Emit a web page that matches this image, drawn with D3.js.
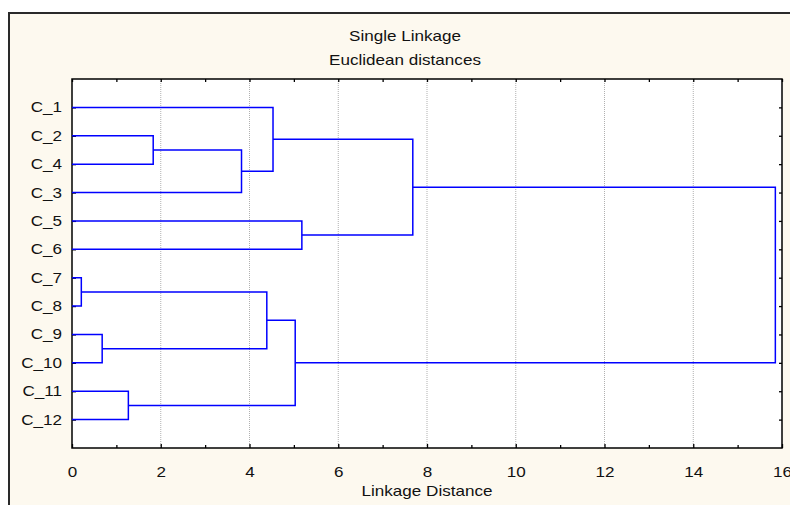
<!DOCTYPE html>
<html>
<head>
<meta charset="utf-8">
<script src="https://cdn.jsdelivr.net/npm/d3@7"></script>
<style>
  body { margin: 0; background: #fff; }
  text { font-family: Arial, "Liberation Sans", sans-serif; fill: #111; }
</style>
</head>
<body>
<div id="chart"></div>
<script>
// leaf order as drawn, top to bottom
const leafLabels = ["C_1", "C_2", "C_4", "C_3", "C_5", "C_6", "C_7", "C_8", "C_9", "C_10", "C_11", "C_12"];
// merges: ids 0..11 are leaves, merge i gets id 12 + i
const mergeA = [1, 12, 0, 4, 14, 6, 8, 17, 10, 19, 16];
const mergeB = [2, 3, 13, 5, 15, 7, 9, 18, 11, 20, 21];
const mergeHeight = [1.83, 3.82, 4.53, 5.18, 7.68, 0.21, 0.68, 4.39, 1.27, 5.03, 15.85];
const xTicksMajor = [0, 2, 4, 6, 8, 10, 12, 14, 16];
const xTicksMinor = [1, 3, 5, 7, 9, 11, 13, 15];
const titleLines = ["Single Linkage", "Euclidean distances"];
const xTitle = "Linkage Distance";

const W = 790, H = 505;
const plot = {left: 72, top: 79, right: 782, bottom: 448};
const sx = 1.22; // the source picture is stretched horizontally

const svg = d3.select("#chart").append("svg")
  .attr("width", W)
  .attr("height", H);

// outer frame
svg.append("rect")
  .attr("x", 9).attr("y", 13)
  .attr("width", 800).attr("height", 510)
  .attr("fill", "#fdf9ef")
  .attr("stroke", "#2a2a2a")
  .attr("stroke-width", 2);

const x = d3.scaleLinear().domain([0, 16]).range([plot.left, plot.right]);
const y = d3.scaleLinear().domain([0, 13]).range([plot.top, plot.bottom]);

// plot background
svg.append("rect")
  .attr("x", plot.left).attr("y", plot.top)
  .attr("width", plot.right - plot.left)
  .attr("height", plot.bottom - plot.top)
  .attr("fill", "#fff");

// grid lines
svg.append("g").selectAll("line")
  .data(xTicksMajor.filter(d => d > 0 && d < 16))
  .join("line")
  .attr("x1", d => x(d)).attr("x2", d => x(d))
  .attr("y1", plot.top).attr("y2", plot.bottom)
  .attr("stroke", "#b0b0b0")
  .attr("stroke-width", 1)
  .attr("stroke-dasharray", "1,1");

// stretch a text node horizontally around its own x
function stretch(sel) {
  sel.each(function() {
    const t = d3.select(this);
    const tx = +t.attr("x") || 0;
    t.attr("x", tx / sx).attr("transform", `scale(${sx},1)`);
  });
}

// axes
const axisStyle = g => {
  g.select(".domain").remove();
  g.selectAll("line").attr("stroke", "#000").attr("stroke-width", 1.3);
  g.selectAll("text").attr("font-size", 14).attr("fill", "#111")
    .attr("font-family", "Arial, 'Liberation Sans', sans-serif");
};

svg.append("g")
  .attr("transform", `translate(0,${plot.bottom})`)
  .call(d3.axisBottom(x).tickValues(xTicksMajor).tickSizeInner(-4).tickSizeOuter(0).tickPadding(19).tickFormat(d3.format("d")))
  .call(axisStyle)
  .call(g => stretch(g.selectAll("text")));

svg.append("g")
  .attr("transform", `translate(0,${plot.bottom})`)
  .call(d3.axisBottom(x).tickValues(xTicksMinor).tickSizeInner(-3).tickSizeOuter(0).tickFormat(""))
  .call(axisStyle);

svg.append("g")
  .attr("transform", `translate(0,${plot.top})`)
  .call(d3.axisTop(x).tickValues(d3.merge([xTicksMajor, xTicksMinor])).tickSizeInner(-3).tickSizeOuter(0).tickFormat(""))
  .call(axisStyle);

svg.append("g")
  .attr("transform", `translate(${plot.left},0)`)
  .call(d3.axisLeft(y).tickValues(d3.range(1, 13)).tickSizeInner(-4).tickSizeOuter(0).tickPadding(10)
    .tickFormat(d => leafLabels[d - 1]))
  .call(axisStyle)
  .call(g => stretch(g.selectAll("text")));

svg.append("g")
  .attr("transform", `translate(${plot.right},0)`)
  .call(d3.axisRight(y).tickValues(d3.range(1, 13)).tickSizeInner(-3).tickSizeOuter(0).tickFormat(""))
  .call(axisStyle);

// plot border
svg.append("rect")
  .attr("x", plot.left).attr("y", plot.top)
  .attr("width", plot.right - plot.left)
  .attr("height", plot.bottom - plot.top)
  .attr("fill", "none")
  .attr("stroke", "#000")
  .attr("stroke-width", 1.5);

// dendrogram nodes: height and vertical position
const nodeH = leafLabels.map(() => 0);
const nodeY = leafLabels.map((d, i) => i + 1);
mergeA.forEach((a, i) => {
  const b = mergeB[i];
  nodeH.push(mergeHeight[i]);
  nodeY.push((nodeY[a] + nodeY[b]) / 2);
});

svg.append("g").selectAll("path")
  .data(mergeA.map((a, i) => ({a, b: mergeB[i], h: mergeHeight[i]})))
  .join("path")
  .attr("d", d => {
    const p = d3.path();
    p.moveTo(x(nodeH[d.a]), y(nodeY[d.a]));
    p.lineTo(x(d.h), y(nodeY[d.a]));
    p.lineTo(x(d.h), y(nodeY[d.b]));
    p.lineTo(x(nodeH[d.b]), y(nodeY[d.b]));
    return p.toString();
  })
  .attr("fill", "none")
  .attr("stroke", "#0000ff")
  .attr("stroke-width", 1.5);

// titles
svg.append("g").selectAll("text")
  .data(titleLines)
  .join("text")
  .attr("x", 405)
  .attr("y", (d, i) => 41 + i * 24)
  .attr("text-anchor", "middle")
  .attr("font-size", 14)
  .text(d => d)
  .call(stretch);

svg.append("text")
  .attr("x", (plot.left + plot.right) / 2)
  .attr("y", 496)
  .attr("text-anchor", "middle")
  .attr("font-size", 14)
  .text(xTitle)
  .call(stretch);
</script>
</body>
</html>
